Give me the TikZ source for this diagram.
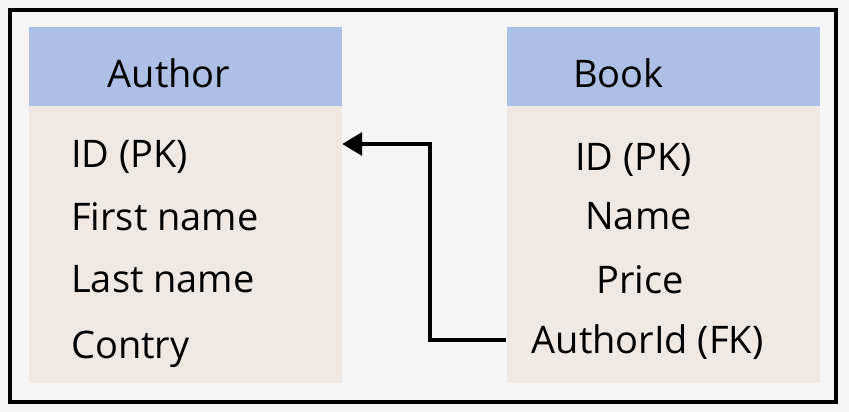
\documentclass[tikz,border=0pt]{standalone}
\usepackage{fontspec}
\setmainfont{Open Sans}
\usepackage{tikz}
\usetikzlibrary{arrows.meta,positioning,calc}
\definecolor{pagegray}{HTML}{F5F5F5}
\definecolor{headblue}{HTML}{AEBFE6}
\definecolor{bodybeige}{HTML}{F0E8E3}
\tikzset{
  tablehead/.style={fill=headblue, draw=none, minimum width=313pt, minimum height=79pt, inner sep=0pt},
  tablebody/.style={fill=bodybeige, draw=none, minimum width=313pt, minimum height=277pt, inner sep=0pt},
  fieldtext/.style={inner sep=0pt, font=\fontsize{38}{40}\selectfont},
}
\begin{document}
\begin{tikzpicture}[x=1pt, y=-1pt]
			\fill[pagegray] (0,0) rectangle (849,412);
			\useasboundingbox (0,0) rectangle (849,412);
			\draw[line width=4.5pt] (10,10) rectangle (836,402);
			% Author table
			\node[tablehead] (authorhead) at (185.5,66.5) {};
			\node[tablebody] (authorbody) at (185.5,244.5) {};
			\node[fieldtext, anchor=base] (authortitle) at (169,88) {Author};
			\node[fieldtext, anchor=base west] (authorid) at (71,167) {ID (PK)};
			\node[fieldtext, anchor=base west] (firstname) at (71,230) {First name};
			\node[fieldtext, anchor=base west] (lastname) at (71,292) {Last name};
			\node[fieldtext, anchor=base west] (contry) at (71,358) {Contry};
			% Book table
			\node[tablehead] (bookhead) at (663,66.5) {};
			\node[tablebody] (bookbody) at (663,244.5) {};
			\node[fieldtext, anchor=base] (booktitle) at (618.5,88) {Book};
			\node[fieldtext, anchor=base] (bookid) at (633.5,170) {ID (PK)};
			\node[fieldtext, anchor=base] (bookname) at (638.5,229) {Name};
			\node[fieldtext, anchor=base] (bookprice) at (640,293) {Price};
			\node[fieldtext, anchor=base] (authorfk) at (647.5,353) {AuthorId (FK)};
			% foreign key link
			\coordinate (fkout) at (bookbody.west |- 0,340);
			\coordinate (pkin) at (authorbody.east |- 0,144);
			\coordinate (bend) at (430,340);
			\draw[line width=3.5pt, -{Triangle[length=20pt,width=23pt]}] (fkout) -- (bend) |- (pkin);
		\end{tikzpicture}
\end{document}
